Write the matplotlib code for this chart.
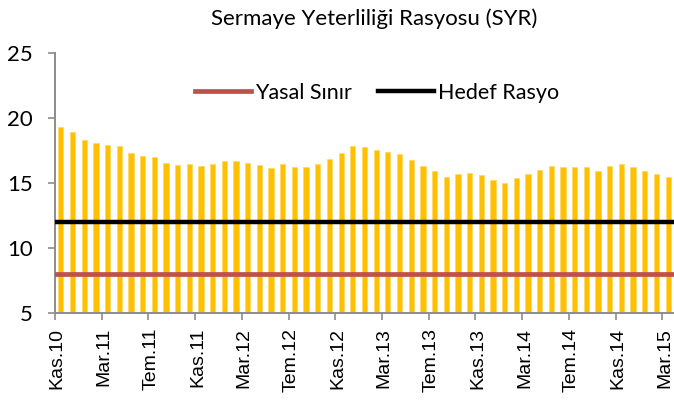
import numpy as np
import matplotlib.pyplot as plt

# Monthly capital adequacy ratio, Kas.10 (Nov 2010) .. Mar.15 (Mar 2015)
syr = [19.31, 18.95, 18.28, 18.10, 17.95, 17.87, 17.31, 17.10, 16.98, 16.57,
       16.38, 16.50, 16.33, 16.50, 16.72, 16.72, 16.54, 16.38, 16.13, 16.44,
       16.21, 16.21, 16.46, 16.82, 17.34, 17.82, 17.80, 17.57, 17.39, 17.21,
       16.75, 16.31, 15.90, 15.49, 15.69, 15.77, 15.59, 15.26, 14.98, 15.41,
       15.69, 16.03, 16.28, 16.26, 16.21, 16.21, 15.90, 16.33, 16.50, 16.26,
       15.95, 15.69, 15.46]
tick_labels = ['Kas.10', 'Mar.11', 'Tem.11', 'Kas.11', 'Mar.12', 'Tem.12', 'Kas.12',
               'Mar.13', 'Tem.13', 'Kas.13', 'Mar.14', 'Tem.14', 'Kas.14', 'Mar.15']
yasal_sinir = 8
hedef_rasyo = 12

x = np.arange(len(syr))
gray = '#8c8c8c'

fig = plt.figure(figsize=(6.74, 4.08), dpi=100)
ax = fig.add_axes([55 / 674, 1 - 312.7 / 408, 1 - 55 / 674, (312.7 - 53.3) / 408])

ax.bar(x, [v - 5 for v in syr], bottom=5, width=0.45, color='#FFC000',
       edgecolor='#FFD966', linewidth=0.6, zorder=2)
ax.axhline(yasal_sinir, color='#C0504D', lw=3.4, zorder=3, label='Yasal Sınır')
ax.axhline(hedef_rasyo, color='black', lw=3.2, zorder=3, label='Hedef Rasyo')

ax.set_xlim(-0.5, len(syr) - 0.5)
ax.set_ylim(5, 25)
ax.set_yticks([5, 10, 15, 20, 25])
ax.tick_params(axis='y', labelsize=16, length=5, width=1.2, color=gray, pad=11)
for lab in ax.get_yticklabels():
    lab.set_fontfamily('Lato')

# ticks between categories, labels on category centres
ax.set_xticks(np.arange(-0.5, len(syr), 4))
ax.set_xticklabels([])
ax.tick_params(axis='x', which='major', length=5, width=1.2, color=gray)
ax.set_xticks(x[::4] - 0.3, minor=True)
ax.set_xticklabels(tick_labels, minor=True, rotation=90, fontsize=14,
                   fontfamily='Liberation Sans')
ax.tick_params(axis='x', which='minor', length=0, pad=11)

for s in ['top', 'right']:
    ax.spines[s].set_visible(False)
for s in ['left', 'bottom']:
    ax.spines[s].set_color(gray)
    ax.spines[s].set_linewidth(1.4)

fig.text(374 / 674, 1 - 19 / 408, 'Sermaye Yeterliliği Rasyosu (SYR)', ha='center',
         va='center', fontsize=16, fontfamily='Lato')

ax.legend(loc='center', bbox_to_anchor=(377 / 674, 1 - 92.7 / 408),
          bbox_transform=fig.transFigure, ncol=2, frameon=False,
          prop={'family': 'Lato', 'size': 15.5}, handlelength=2.6,
          handletextpad=0.2, columnspacing=1.2)

fig.savefig('out.png', dpi=100)
